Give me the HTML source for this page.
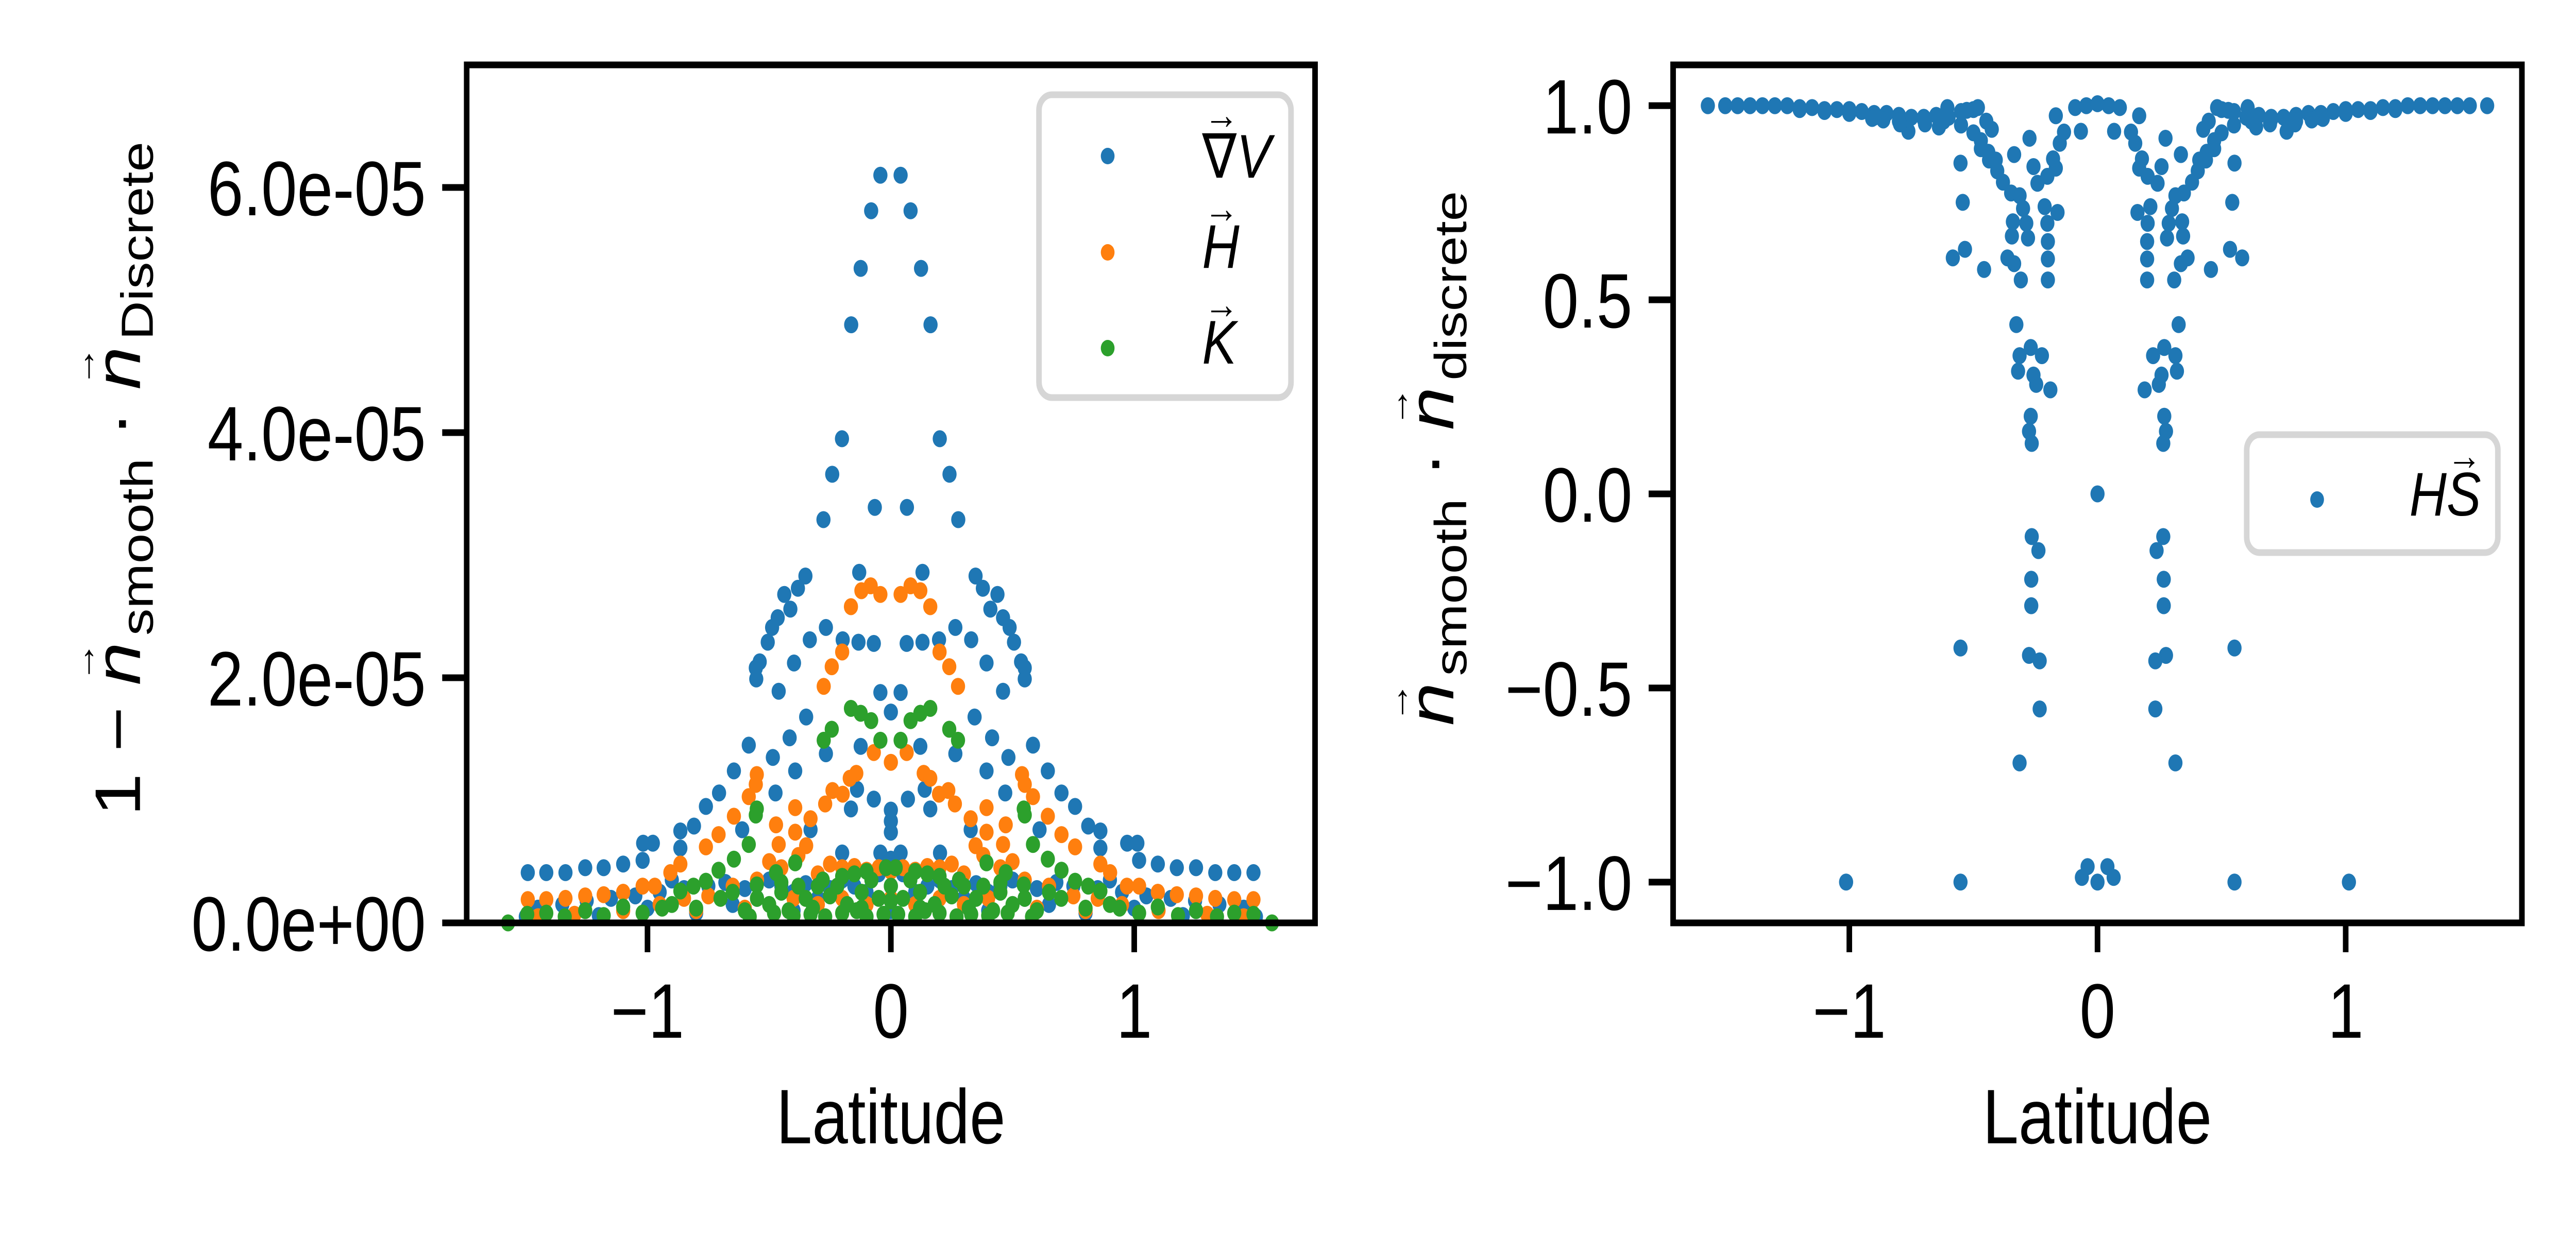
<!DOCTYPE html>
<html><head><meta charset="utf-8"><style>
html,body{margin:0;padding:0;background:#fff;overflow:hidden;width:100%;height:100%}
svg{display:block;width:100vw;height:100vh}
text{font-family:"Liberation Sans",Arial,sans-serif;fill:#000}
</style></head><body>
<svg id="fig" viewBox="0 0 6000 2400" preserveAspectRatio="none" xmlns="http://www.w3.org/2000/svg">
<rect width="6000" height="2400" fill="#fff"/>
<g id="left-marks"></g>
<g id="right-marks"></g>
<rect x="1087" y="126" width="1976" height="1666" fill="none" stroke="#000" stroke-width="13"/>
<rect x="3897" y="126" width="1977" height="1666" fill="none" stroke="#000" stroke-width="13"/>
<g id="left-ticks"></g>
<g id="right-ticks"></g>
<text x="2075" y="2220" font-size="150" text-anchor="middle">Latitude</text>
<text x="4885" y="2220" font-size="150" text-anchor="middle">Latitude</text>
<g transform="translate(326,930) rotate(-90)">
  <text x="0" y="0" font-size="150" text-anchor="middle">1 − <tspan font-style="italic">n</tspan><tspan font-size="80" dx="-78" dy="-105">→</tspan><tspan font-size="105" dx="11" dy="135">smooth</tspan><tspan dy="-30"> · </tspan><tspan font-style="italic">n</tspan><tspan font-size="80" dx="-78" dy="-105">→</tspan><tspan font-size="105" dx="11" dy="135">Discrete</tspan></text>
</g>
<g transform="translate(3385,890) rotate(-90)">
  <text x="0" y="0" font-size="150" text-anchor="middle"><tspan font-style="italic">n</tspan><tspan font-size="80" dx="-78" dy="-105">→</tspan><tspan font-size="105" dx="11" dy="135">smooth</tspan><tspan dy="-30"> · </tspan><tspan font-style="italic">n</tspan><tspan font-size="80" dx="-78" dy="-105">→</tspan><tspan font-size="105" dx="11" dy="135">discrete</tspan></text>
</g>
<g>
  <rect x="2420" y="184" width="587" height="588" rx="30" fill="#fff" fill-opacity="0.8" stroke="#d6d6d6" stroke-width="13"/>
  <circle cx="2580" cy="303" r="16" fill="#1f77b4"/>
  <circle cx="2580" cy="490" r="16" fill="#ff7f0e"/>
  <circle cx="2580" cy="676" r="16" fill="#2ca02c"/>
  <text x="2800" y="345" font-size="120">∇<tspan font-style="italic">V</tspan></text>
  <text x="2805" y="250" font-size="80">→</text>
  <text x="2800" y="520" font-size="120" font-style="italic">H</text>
  <text x="2805" y="432" font-size="80">→</text>
  <text x="2800" y="706" font-size="120" font-style="italic">K</text>
  <text x="2805" y="618" font-size="80">→</text>
</g>
<g>
  <rect x="5233" y="844" width="585" height="229" rx="30" fill="#fff" fill-opacity="0.8" stroke="#d6d6d6" stroke-width="13"/>
  <circle cx="5397" cy="970" r="16" fill="#1f77b4"/>
  <text x="5612" y="1001" font-size="120" font-style="italic">HS</text>
  <text x="5700" y="912" font-size="80">→</text>
</g>
</svg>
<script>
// ---- left chart data (values in units of 1e-5) ----
const gradVx = [-0.043,0.040,-0.081,0.081,-0.124,0.124,-0.163,0.163,-0.201,0.201,-0.241,0.241,-0.277,0.277,-0.066,0.066,-0.13,0.13,
-0.351,-0.382,-0.438,-0.413,-0.465,-0.488,-0.506,-0.539,-0.555,-0.553,0.348,0.378,0.438,0.409,0.461,0.488,0.506,0.535,0.55,0.55,
-0.267,-0.333,-0.198,-0.133,-0.07,0.265,0.33,0.198,0.13,0.065,-0.398,0.393,-0.461,0.461,-0.043,0.04,-0.348,0.344,0,-0.416,0.416,
-0.584,0.584,-0.485,0.483,-0.393,0.393,-0.645,0.645,-0.267,0.265,-0.124,0.121,-0.706,0.701,-0.474,0.47,-0.139,0.139,-0.76,0.757,
-0.07,0.07,-0.164,0.162,0,0,0,-0.611,0.611,-0.33,0.328,-0.809,0.811,-0.865,0.861,-1.018,-0.978,0.971,1.013,-0.865,0.861,-1.02,1.02,
-1.1,1.097,-1.18,1.175,-1.256,1.254,-1.337,1.333,-1.416,1.411,-1.492,1.49,0.202,-0.2,-0.043,0.04,0,
-1.45,-1.35,-1.25,-1.15,-1.05,-0.95,-0.9,-0.85,-0.75,-0.68,-0.6,-0.55,-0.5,-0.45,-0.4,-0.35,-0.3,-0.25,-0.2,-0.15,-0.1,-0.05,0,
1.45,1.35,1.25,1.15,1.05,0.95,0.9,0.85,0.75,0.68,0.6,0.55,0.5,0.45,0.4,0.35,0.3,0.25,0.2,0.15,0.1,0.05,
-1.5,-1.2,-0.8,-0.4,0,0.4,0.8,1.2,1.5,-0.65,0.65,-1.0,1.0];
const gradVy = [6.10,6.10,5.81,5.81,5.34,5.34,4.88,4.88,3.95,3.95,3.66,3.66,3.29,3.29,3.39,3.39,2.86,2.86,
2.83,2.73,2.68,2.56,2.49,2.41,2.29,2.13,2.08,1.99,2.83,2.73,2.68,2.56,2.49,2.41,2.29,2.13,2.08,1.99,
2.41,2.31,2.31,2.29,2.28,2.41,2.31,2.31,2.29,2.28,2.12,2.12,1.89,1.89,1.88,1.88,1.68,1.68,1.72,1.51,1.51,
1.45,1.45,1.35,1.35,1.24,1.24,1.24,1.24,1.38,1.38,1.44,1.44,1.06,1.06,1.06,1.06,1.09,1.09,0.95,0.95,
1.01,1.01,0.93,0.93,0.92,0.83,0.74,0.76,0.76,0.76,0.76,0.79,0.79,0.75,0.75,0.65,0.65,0.65,0.65,0.61,0.61,0.51,0.51,
0.48,0.48,0.45,0.45,0.45,0.45,0.41,0.41,0.41,0.41,0.41,0.41,0.57,0.57,0.57,0.57,0.52,
0.12,0.15,0.18,0.2,0.22,0.25,0.35,0.28,0.3,0.33,0.28,0.2,0.35,0.3,0.25,0.32,0.2,0.28,0.35,0.3,0.25,0.4,0.3,
0.12,0.15,0.18,0.2,0.22,0.25,0.35,0.28,0.3,0.33,0.28,0.2,0.35,0.3,0.25,0.32,0.2,0.28,0.35,0.3,0.25,0.4,
0.05,0.06,0.08,0.1,0.1,0.1,0.08,0.06,0.05,0.15,0.15,0.12,0.12];
const hX = [-0.121,-0.083,-0.043,0.121,0.081,0.04,-0.164,0.162,-0.2,0.2,-0.243,0.24,-0.276,0.276,-0.07,0.065,0,-0.142,0.135,-0.169,0.162,
-0.24,0.236,-0.198,0.198,-0.27,0.263,-0.551,0.539,-0.555,0.55,-0.584,0.584,-0.393,0.393,-0.645,0.645,-0.33,0.328,-0.472,0.472,-0.708,0.701,
-0.393,0.393,-0.76,0.757,-0.348,0.348,-0.461,0.461,-0.865,0.861,-0.906,0.901,-1.02,1.02,-1.1,1.097,-1.18,1.175,-1.256,1.254,-1.337,1.333,
-1.416,1.411,-1.492,1.49,
-1.45,-1.3,-1.1,-0.95,-0.85,-0.75,-0.65,-0.55,-0.5,-0.45,-0.38,-0.3,-0.25,-0.2,-0.15,-0.1,-0.05,0,
1.45,1.3,1.1,0.95,0.85,0.75,0.65,0.55,0.5,0.45,0.38,0.3,0.25,0.2,0.15,0.1,0.05,
-0.4,-0.3,-0.2,-0.1,0,0.1,0.2,0.3,0.4,-0.6,0.6,-0.8,0.8,-0.97,0.97];
const hY = [2.71,2.75,2.68,2.71,2.75,2.68,2.58,2.58,2.21,2.21,2.09,2.09,1.93,1.93,1.39,1.39,1.31,1.22,1.22,1.18,1.18,
1.08,1.08,1.05,1.05,0.97,0.97,1.21,1.21,1.13,1.13,1.03,1.03,0.94,0.94,0.87,0.87,0.85,0.85,0.80,0.80,0.72,0.72,
0.74,0.74,0.62,0.62,0.63,0.63,0.64,0.64,0.48,0.48,0.41,0.41,0.30,0.30,0.25,0.25,0.23,0.23,0.22,0.22,0.20,0.20,
0.19,0.19,0.19,0.19,
0.05,0.07,0.1,0.15,0.2,0.22,0.3,0.35,0.5,0.45,0.55,0.4,0.48,0.45,0.46,0.43,0.45,0.42,
0.05,0.07,0.1,0.15,0.2,0.22,0.3,0.35,0.5,0.45,0.55,0.4,0.48,0.45,0.46,0.43,0.45,
0.2,0.15,0.2,0.15,0.2,0.15,0.2,0.15,0.2,0.12,0.12,0.1,0.1,0.3,0.3];
const kX = [-0.164,0.162,-0.124,0.121,-0.081,0.081,-0.243,0.24,-0.276,0.276,-0.043,0.04,-0.551,0.546,-0.555,0.55,-0.584,0.584,-0.645,0.645,
-0.708,0.701,-0.472,0.472,-0.393,0.393,-0.551,0.546,-0.76,0.757,-0.811,0.811,-0.865,0.861,-1.1,1.097,-1.256,1.254,-1.416,1.411,-1.494,1.49,
-1.573,1.566,-1.34,1.34,-1.18,1.18,-1.02,1.02,-0.94,0.94,
-0.6,-0.55,-0.5,-0.45,-0.42,-0.38,-0.35,-0.32,-0.28,-0.25,-0.22,-0.18,-0.15,-0.12,-0.08,-0.05,-0.02,
0.6,0.55,0.5,0.45,0.42,0.38,0.35,0.32,0.28,0.25,0.22,0.18,0.15,0.12,0.08,0.05,0.02,
-0.58,-0.48,-0.4,-0.33,-0.27,-0.2,-0.14,-0.1,-0.03,0.03,0.1,0.14,0.2,0.27,0.33,0.4,0.48,0.58,
-0.9,-0.8,-0.7,-0.65,0.65,0.7,0.8,0.9,-0.3,-0.2,-0.1,0,0.1,0.2,0.3,-0.45,0.45,-0.12,0.12,0];
const kY = [1.75,1.75,1.71,1.71,1.65,1.65,1.58,1.58,1.49,1.49,1.49,1.49,0.93,0.93,0.88,0.88,0.64,0.64,0.52,0.52,
0.43,0.43,0.41,0.41,0.49,0.49,0.31,0.31,0.34,0.34,0.30,0.30,0.26,0.26,0.13,0.13,0.10,0.10,0.08,0.08,0.07,0.07,
0.0,0.0,0.05,0.05,0.06,0.06,0.08,0.08,0.12,0.12,
0.1,0.2,0.15,0.25,0.1,0.3,0.2,0.12,0.35,0.22,0.3,0.15,0.4,0.25,0.35,0.2,0.45,
0.1,0.2,0.15,0.25,0.1,0.3,0.2,0.12,0.35,0.22,0.3,0.15,0.4,0.25,0.35,0.2,0.45,
0.05,0.08,0.06,0.07,0.05,0.08,0.1,0.05,0.07,0.07,0.05,0.1,0.08,0.05,0.07,0.06,0.08,0.05,
0.15,0.12,0.2,0.25,0.25,0.2,0.12,0.15,0.3,0.38,0.42,0.3,0.42,0.38,0.3,0.33,0.33,0.12,0.12,0.18];
const leftXTicks = [-1,0,1];
const leftXTickLabels = ["−1","0","1"];
const leftYTicks = [0,2,4,6];
const leftYTickLabels = ["0.0e+00","2.0e-05","4.0e-05","6.0e-05"];

// ---- right chart data ----
const hsX = [-1.57,-1.5,-1.45,-1.4,-1.35,-1.3,-1.25,-1.2,-1.15,-1.1,-1.05,-1.0,-0.95,-0.9,-0.85,-0.8,-0.75,-0.7,-0.65,-0.6,-0.55,-0.5,
1.57,1.5,1.45,1.4,1.35,1.3,1.25,1.2,1.15,1.1,1.05,1.0,0.95,0.9,0.85,0.8,0.75,0.7,0.65,0.6,0.55,0.5,
-1.2,-1.1,-1.0,-0.9,-0.8,-0.7,-0.62,-0.55,1.2,1.1,1.0,0.9,0.8,0.7,0.62,0.55,
-0.552,-0.543,-0.583,-0.534,-0.457,-0.274,-0.309,-0.2,-0.2,-0.2,-0.327,-0.269,-0.314,-0.224,-0.32,-0.258,-0.247,-0.19,-0.269,-0.276,-0.265,
0.552,0.543,0.583,0.534,0.457,0.274,0.309,0.2,0.2,0.2,0.327,0.269,0.314,0.224,0.32,0.258,0.247,0.19,0.269,0.276,0.265,
0,-0.265,-0.238,-0.267,-0.267,-0.552,-0.276,-0.233,-0.233,-0.314,0.265,0.238,0.267,0.267,0.552,0.276,0.233,0.233,0.314,
-1.013,-0.552,-0.04,0.04,-0.063,0,0.065,0.552,1.013,
-0.47,-0.437,-0.404,-0.381,-0.348,-0.314,-0.3,-0.341,-0.287,-0.345,-0.28,-0.363,-0.336,-0.213,-0.161,-0.202,-0.242,-0.202,-0.168,-0.179,-0.152,-0.135,-0.067,-0.168,-0.09,-0.045,
0.47,0.437,0.404,0.381,0.348,0.314,0.3,0.341,0.287,0.345,0.28,0.363,0.336,0.213,0.161,0.202,0.242,0.202,0.168,0.179,0.152,0.135,0.067,0.168,0.09,0.045,0,
-0.336,-0.258,-0.426,-0.448,-0.482,-0.527,-0.605,-0.639,-0.695,-0.762,-0.796,-0.863,-0.908,
0.336,0.258,0.426,0.448,0.482,0.527,0.605,0.639,0.695,0.762,0.796,0.863,0.908,
-0.5,-0.47,-0.44,-0.41,0.5,0.47,0.44,0.41];
const hsY = [1.0,1.0,1.0,1.0,1.0,1.0,1.0,0.995,0.995,0.99,0.99,0.99,0.985,0.98,0.98,0.975,0.97,0.97,0.975,0.97,0.985,0.99,
1.0,1.0,1.0,1.0,1.0,1.0,1.0,0.995,0.995,0.99,0.99,0.99,0.985,0.98,0.98,0.975,0.97,0.97,0.975,0.97,0.985,0.99,
0.99,0.985,0.98,0.97,0.96,0.965,0.96,0.95,0.99,0.985,0.98,0.97,0.96,0.965,0.96,0.95,
0.852,0.751,0.608,0.63,0.578,0.916,0.551,0.551,0.605,0.65,0.436,0.377,0.356,0.356,0.316,0.306,0.282,0.268,0.2,0.161,0.13,
0.852,0.751,0.608,0.63,0.578,0.916,0.551,0.551,0.605,0.65,0.436,0.377,0.356,0.356,0.316,0.306,0.282,0.268,0.2,0.161,0.13,
0,-0.11,-0.146,-0.22,-0.288,-0.397,-0.416,-0.43,-0.554,-0.693,-0.11,-0.146,-0.22,-0.288,-0.397,-0.416,-0.43,-0.554,-0.693,
-1.0,-1.0,-0.96,-0.96,-0.988,-1.0,-0.988,-1.0,-1.0,
0.889,0.86,0.832,0.803,0.775,0.768,0.735,0.701,0.697,0.664,0.659,0.608,0.593,0.74,0.725,0.697,0.8,0.818,0.839,0.863,0.903,0.932,0.934,0.974,0.995,1.0,
0.889,0.86,0.832,0.803,0.775,0.768,0.735,0.701,0.697,0.664,0.659,0.608,0.593,0.74,0.725,0.697,0.8,0.818,0.839,0.863,0.903,0.932,0.934,0.974,0.995,1.0,1.005,
0.874,0.843,0.939,0.96,0.995,0.988,0.995,0.945,0.953,0.934,0.953,0.963,0.967,
0.874,0.843,0.939,0.96,0.995,0.988,0.995,0.945,0.953,0.934,0.953,0.963,0.967,
0.93,0.91,0.88,0.86,0.93,0.91,0.88,0.86];
const rightXTicks = [-1,0,1];
const rightXTickLabels = ["−1","0","1"];
const rightYTicks = [1,0.5,0,-0.5,-1];
const rightYTickLabels = ["1.0","0.5","0.0","−0.5","−1.0"];

const NS = "http://www.w3.org/2000/svg";
const L = {x0:1087,x1:3063,y0:1792,y1:126,xmin:-1.743,xmax:1.743,ymin:0,ymax:7.0};
const R = {x0:3897,x1:5874,y0:1792,y1:126,xmin:-1.71,xmax:1.71,ymin:-1.105,ymax:1.105};
function sx(a,v){return a.x0+(v-a.xmin)/(a.xmax-a.xmin)*(a.x1-a.x0);}
function sy(a,v){return a.y0-(v-a.ymin)/(a.ymax-a.ymin)*(a.y0-a.y1);}

function scatter(g,a,xs,ys,color,name){
  for(let i=0;i<xs.length;i++){
    const c=document.createElementNS(NS,"circle");
    c.setAttribute("cx",sx(a,xs[i]).toFixed(1));
    c.setAttribute("cy",sy(a,ys[i]).toFixed(1));
    c.setAttribute("r","16.5");
    c.setAttribute("fill",color);
    
    
    g.appendChild(c);
  }
}
const lg=document.getElementById("left-marks");
scatter(lg,L,gradVx,gradVy,"#1f77b4","point-gradv");
scatter(lg,L,hX,hY,"#ff7f0e","point-h");
scatter(lg,L,kX,kY,"#2ca02c","point-k");
scatter(document.getElementById("right-marks"),R,hsX,hsY,"#1f77b4","point-hs");

function ticks(g,a,xt,xl,yt,yl){
  xt.forEach((v,i)=>{
    const x=sx(a,v);
    const t=document.createElementNS(NS,"line");
    t.setAttribute("x1",x);t.setAttribute("x2",x);t.setAttribute("y1",a.y0);t.setAttribute("y2",a.y0+57);
    t.setAttribute("stroke","#000");t.setAttribute("stroke-width","13");
    
    
    g.appendChild(t);
    const s=document.createElementNS(NS,"text");
    s.setAttribute("x",x);s.setAttribute("y",2015);s.setAttribute("font-size","150");s.setAttribute("text-anchor","middle");
    s.textContent=xl[i];
    
    
    g.appendChild(s);
  });
  yt.forEach((v,i)=>{
    const y=sy(a,v);
    const t=document.createElementNS(NS,"line");
    t.setAttribute("x1",a.x0-57);t.setAttribute("x2",a.x0);t.setAttribute("y1",y);t.setAttribute("y2",y);
    t.setAttribute("stroke","#000");t.setAttribute("stroke-width","13");
    
    
    g.appendChild(t);
    const s=document.createElementNS(NS,"text");
    s.setAttribute("x",a.x0-95);s.setAttribute("y",y+54);s.setAttribute("font-size","150");s.setAttribute("text-anchor","end");
    s.textContent=yl[i];
    
    
    g.appendChild(s);
  });
}
ticks(document.getElementById("left-ticks"),L,leftXTicks,leftXTickLabels,leftYTicks,leftYTickLabels);
ticks(document.getElementById("right-ticks"),R,rightXTicks,rightXTickLabels,rightYTicks,rightYTickLabels);
</script>
</body></html>
